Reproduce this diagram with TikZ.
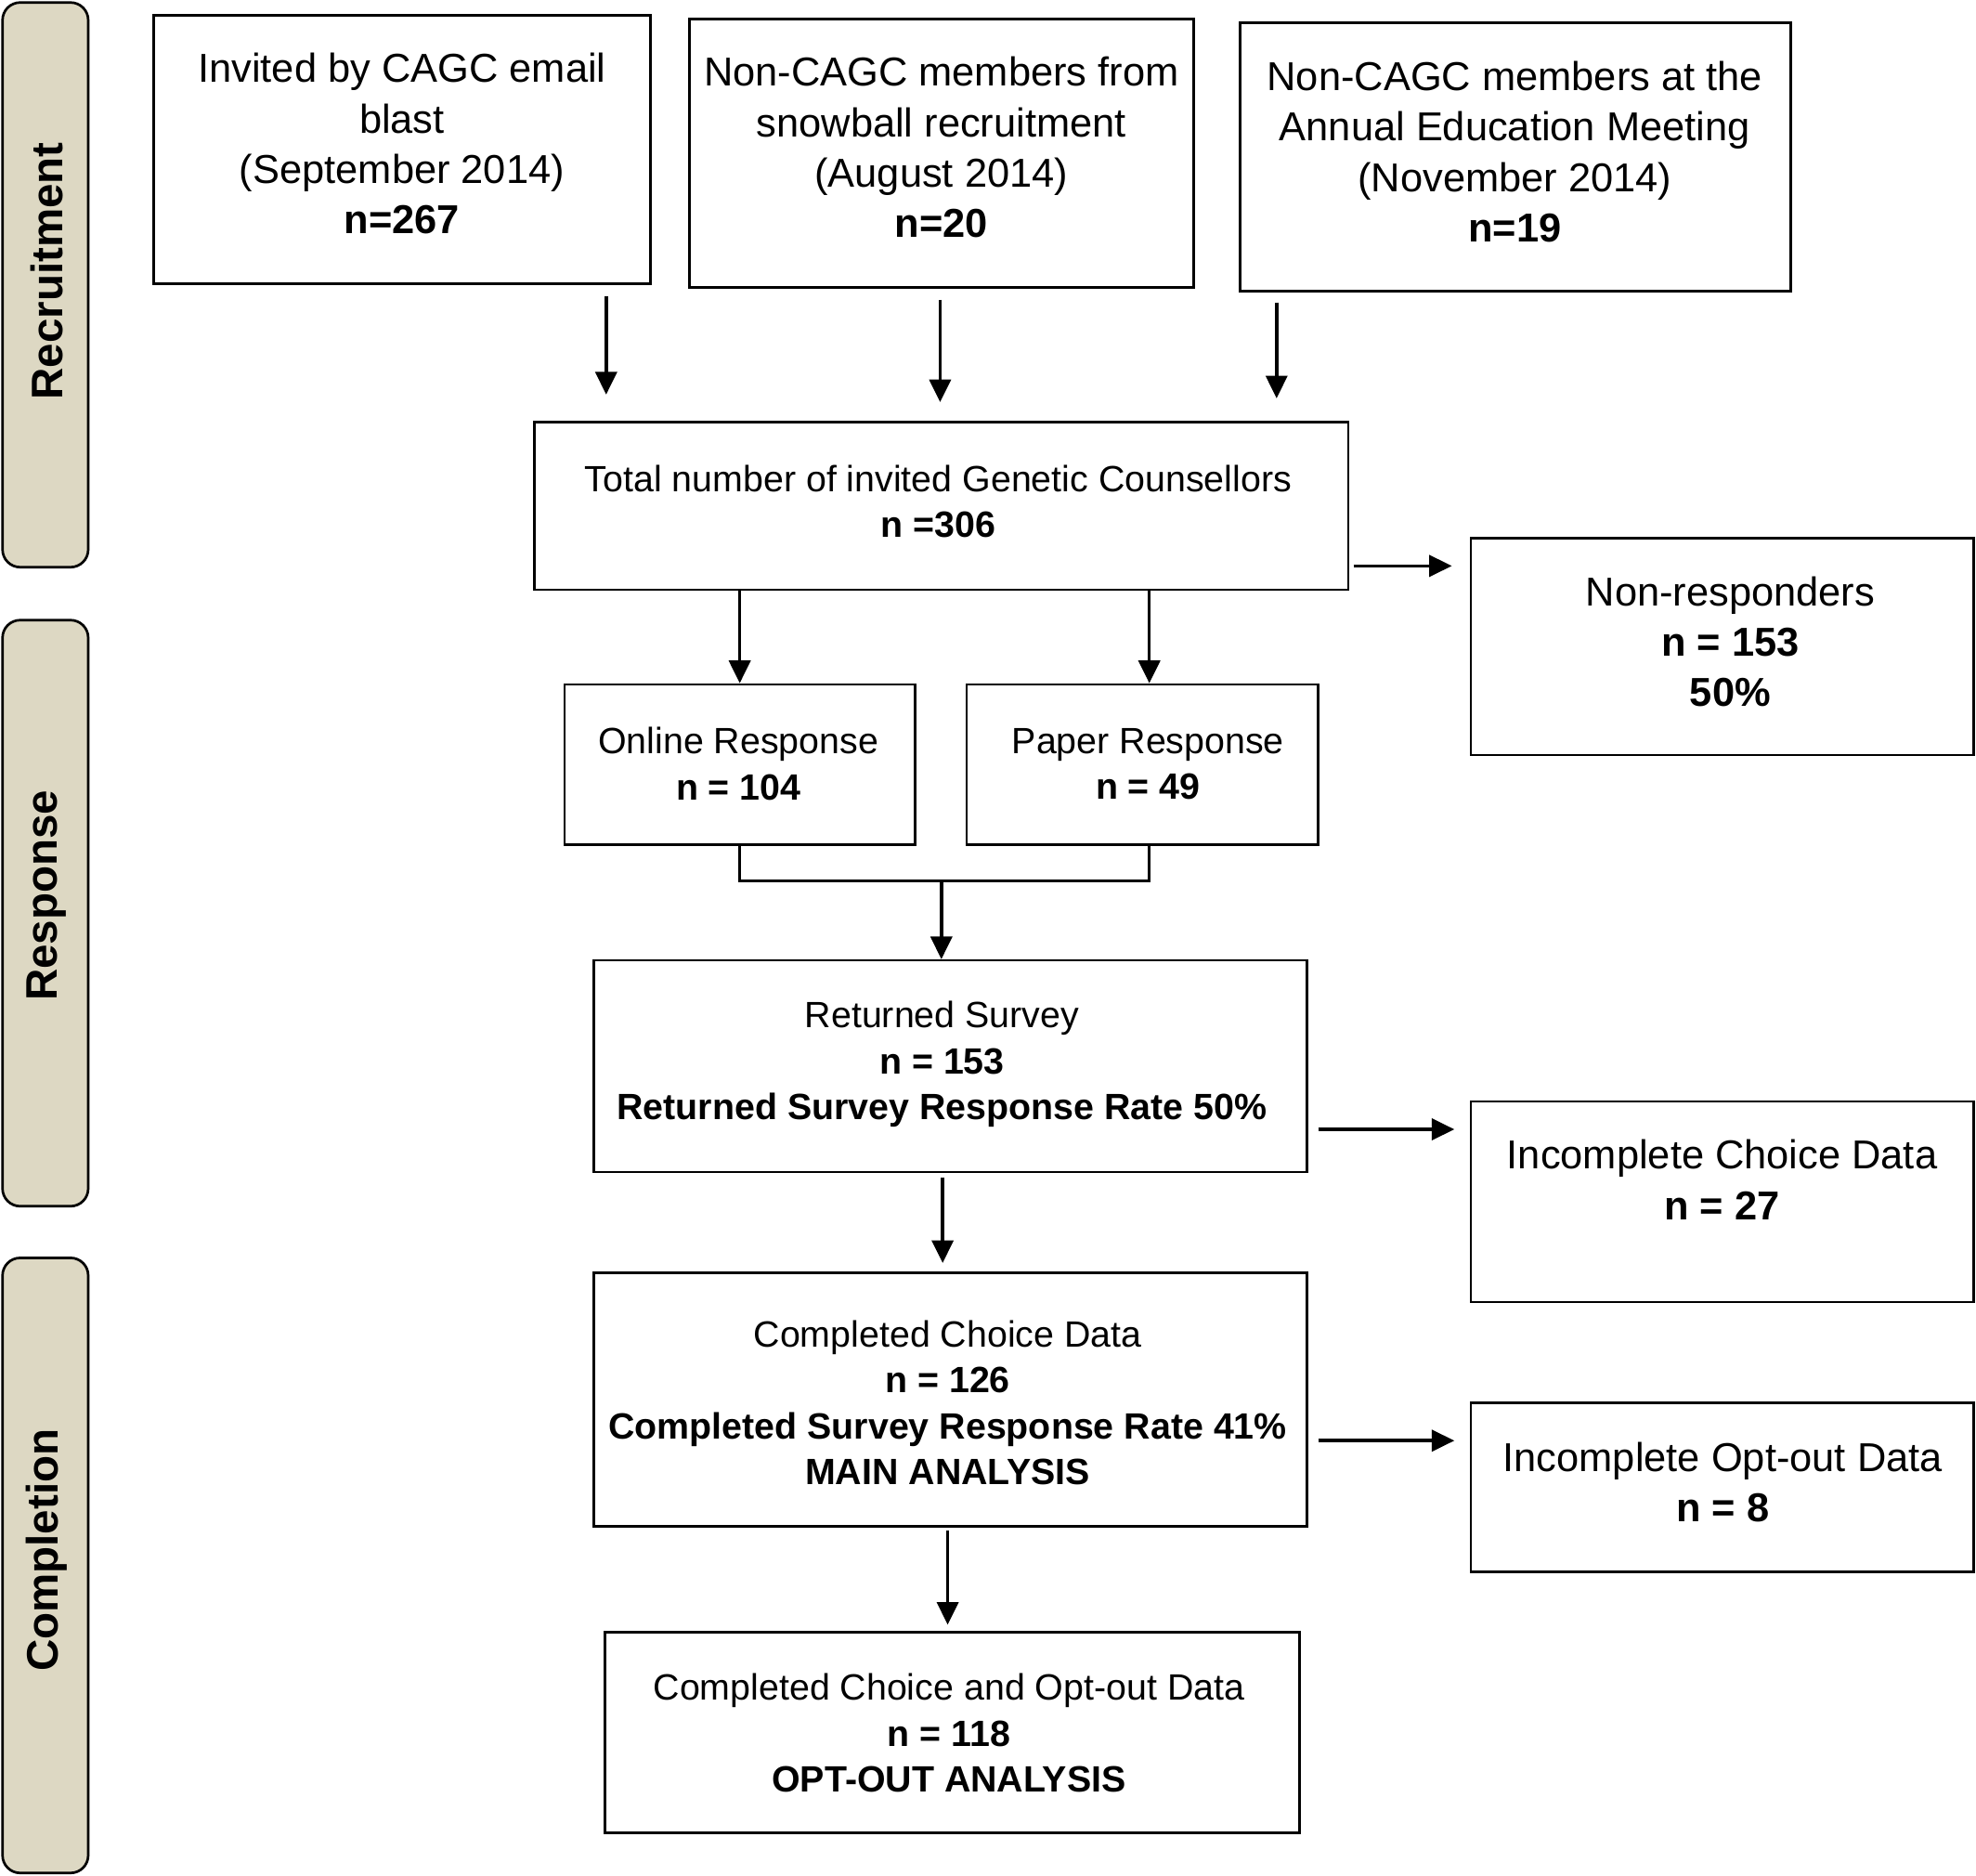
\documentclass[tikz,border=0pt]{standalone}
\usepackage{fontspec}
\setmainfont{Liberation Sans}
\usetikzlibrary{arrows.meta}
\definecolor{lanefill}{RGB}{221,216,195}
\begin{document}
\begin{tikzpicture}[x=1pt,y=-1pt,
  box/.style={draw, line width=1.9pt, rectangle, inner sep=0pt},
  txt/.style={align=center, inner sep=0pt},
  big/.style={font=\fontsize{32}{40}\selectfont},
  mid/.style={font=\fontsize{29}{36.5}\selectfont},
  arr/.style={line width=2.6pt, -{Triangle[length=18pt,width=17pt]}},
  ln/.style={line width=2pt},
  lane/.style={draw, line width=2pt, fill=lanefill, rounded corners=14pt, inner sep=0pt},
  lanetxt/.style={font=\fontsize{35}{40}\selectfont\bfseries, rotate=90, inner sep=0pt}]
\useasboundingbox (0,0) rectangle (1568,1488);

% lanes
\node[lane, minimum width=68, minimum height=448] (L1) at (36,226) {};
\node[lanetxt] (L1t) at (37,215) {Recruitment};
\node[lane, minimum width=68, minimum height=465] (L2) at (36,724.5) {};
\node[lanetxt] (L2t) at (37,710.5) {Response};
\node[lane, minimum width=68, minimum height=488] (L3) at (36,1242) {};
\node[lanetxt] (L3t) at (37,1230) {Completion};

% boxes
\node[box, minimum width=394, minimum height=213] (A) at (319,118.5) {};
\node[txt, big] (At) at (319,114) {Invited by CAGC email\\blast\\(September 2014)\\\textbf{n=267}};
\node[box, minimum width=400, minimum height=213] (B) at (747,121.5) {};
\node[txt, big] (Bt) at (747,117) {Non-CAGC members from\\snowball recruitment\\(August 2014)\\\textbf{n=20}};
\node[box, minimum width=437, minimum height=213] (C) at (1202.5,124.5) {};
\node[txt, big] (Ct) at (1202,120.5) {Non-CAGC members at the\\Annual Education Meeting\\(November 2014)\\\textbf{n=19}};

\node[box, minimum width=646, minimum height=133] (T) at (747,401.5) {};
\node[txt, mid] (Tt) at (744.5,398) {Total number of invited Genetic Counsellors\\\textbf{n =306}};

\node[box, minimum width=399, minimum height=172] (NR) at (1366.5,513) {};
\node[txt, big] (NRt) at (1373,509) {Non-responders\\\textbf{n = 153}\\\textbf{50\%}};

\node[box, minimum width=278, minimum height=127] (O) at (587,606.5) {};
\node[txt, mid] (Ot) at (586,606) {Online Response\\\textbf{n = 104}};
\node[box, minimum width=279, minimum height=127] (P) at (906.5,606.5) {};
\node[txt, mid] (Pt) at (911,606) {Paper Response\\\textbf{n = 49}};

\node[box, minimum width=566, minimum height=168] (R) at (754,846) {};
\node[txt, mid] (Rt) at (747.5,844.5) {Returned Survey\\\textbf{n = 153}\\\textbf{Returned Survey Response Rate 50\%}};

\node[box, minimum width=399, minimum height=159] (IC) at (1366.5,953.5) {};
\node[txt, big] (ICt) at (1366.5,936) {Incomplete Choice Data\\\textbf{n = 27}};

\node[box, minimum width=566, minimum height=201] (CC) at (754,1110.5) {};
\node[txt, mid] (CCt) at (752,1113) {Completed Choice Data\\\textbf{n = 126}\\\textbf{Completed Survey Response Rate 41\%}\\\textbf{MAIN ANALYSIS}};

\node[box, minimum width=399, minimum height=134] (IO) at (1366.5,1180) {};
\node[txt, big] (IOt) at (1367,1176) {Incomplete Opt-out Data\\\textbf{n = 8}};

\node[box, minimum width=551, minimum height=159] (F) at (755.5,1374.5) {};
\node[txt, mid] (Ft) at (753,1375) {Completed Choice and Opt-out Data\\\textbf{n = 118}\\\textbf{OPT-OUT ANALYSIS}};

% connectors
\draw[arr, shorten <=9pt, shorten >=21pt] (A.south -| 481,0) -- (T.north -| 481,0);
\draw[arr, shorten <=9pt, shorten >=15pt] (B.south -| 746,0) -- (T.north -| 746,0);
\draw[arr, shorten <=8pt, shorten >=18pt] (C.south -| 1013,0) -- (T.north -| 1013,0);

\draw[arr, shorten <=3pt, shorten >=14pt] (T.east |- 0,449) -- (NR.west |- 0,449);
\draw[arr] (T.south -| O.north) -- (O.north);
\draw[arr] (T.south -| 912,0) -- (P.north -| 912,0);

\coordinate (m) at (747,699);
\draw[ln] (O.south) |- (m);
\draw[ln] (P.south -| 912,0) |- (m);
\draw[arr] (m) -- (R.north -| m);

\draw[arr, shorten <=8pt, shorten >=12pt] (R.east |- 0,896) -- (IC.west |- 0,896);
\draw[arr, shorten <=3pt, shorten >=7pt] (R.south -| 748,0) -- (CC.north -| 748,0);
\draw[arr, shorten <=8pt, shorten >=12pt] (CC.east |- 0,1143) -- (IO.west |- 0,1143);
\draw[arr, shorten <=2pt, shorten >=5pt] (CC.south -| 752,0) -- (F.north -| 752,0);
\end{tikzpicture}
\end{document}
